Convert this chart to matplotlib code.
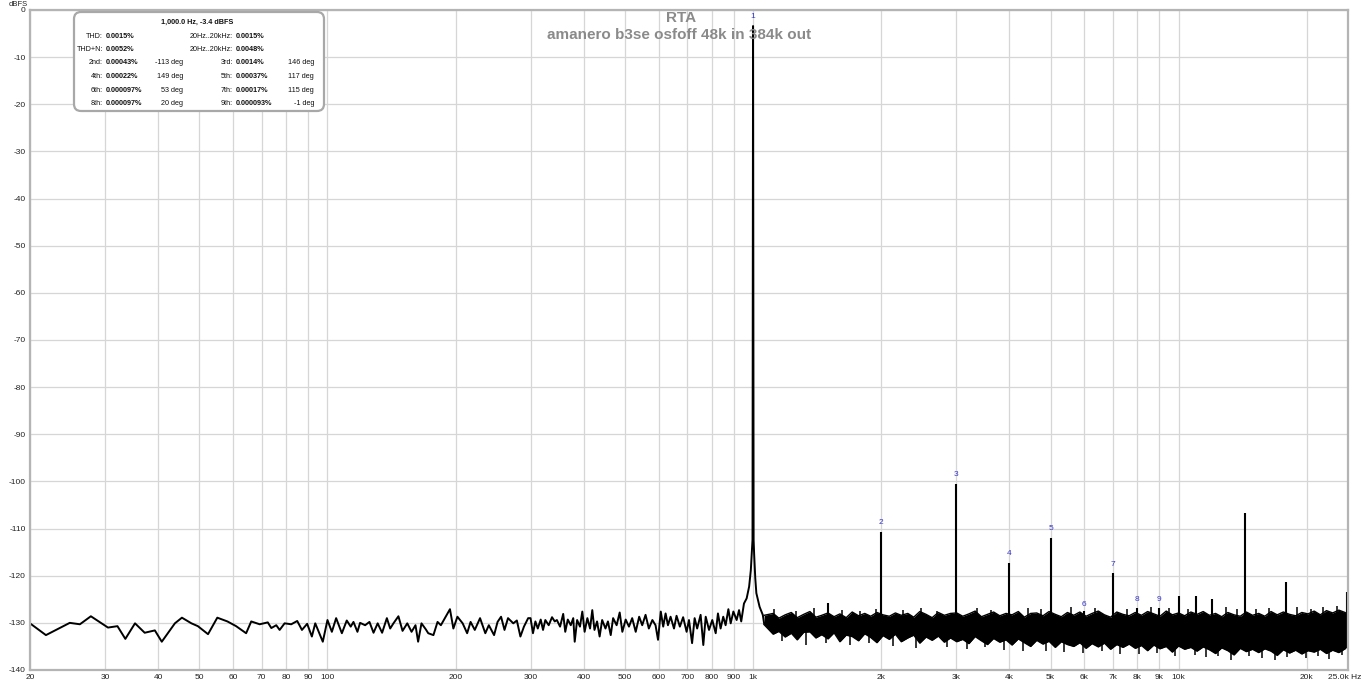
import matplotlib.pyplot as plt
import numpy as np
from matplotlib.patches import FancyBboxPatch
from matplotlib.ticker import NullLocator
from matplotlib.transforms import IdentityTransform, ScaledTranslation

plt.rcParams['font.family'] = ['Liberation Sans', 'DejaVu Sans']

# RTA trace below ~1 kHz (Hz, dBFS)
trace_f = [20, 21.8, 24.8, 26.2, 27.8, 30.5, 32.1, 33.5, 35.3, 37.2, 39.3, 40.8, 43.8, 45.5, 47.9,
           49.6, 52.4, 55.1, 58.2, 61, 64.4, 66.2, 69.3, 72.4, 73.8, 75.8, 77.2, 79.3, 82.2, 84.9,
           87.1, 89.6, 91.9, 93.6, 97.5,
           100, 102.4, 104.8, 108.1, 111, 113.4, 115.1, 117.6, 119.3, 122.6, 125.5, 128.3, 131.2,
           134.4, 137.9, 140.4, 142.9, 146.8, 150.1, 154, 157.6, 161, 163.3, 166.3, 170.3, 172.5,
           177.4, 181.4, 184.7, 189.3, 194, 197.6, 202, 207.8, 212.9, 216.9, 221.9, 228.3, 234.9,
           239.4, 246.3, 251, 255.8, 260.6, 265.6, 273.3, 278.6, 284, 289.5, 296.2,
           300, 304, 308, 312, 317, 321, 325, 331, 337, 342, 346, 352, 358, 362, 367, 373, 378, 381,
           386, 392, 397, 402, 408, 414, 419, 424, 430, 436, 442, 450, 456, 463, 469, 478, 486, 493,
           502, 511, 520, 530, 540, 549, 559, 569, 580, 590, 598, 607, 615, 623, 631, 640, 652, 661,
           673, 685, 698, 707, 719, 729, 739, 753, 764, 774, 788, 802, 817, 827, 839, 851, 862, 875,
           886, 899, 915, 927, 938, 952, 966, 979, 988, 994, 997, 1000, 1003, 1006, 1012, 1018, 1036,
           1054, 1062]
trace_db = [-130.1, -132.6, -130.0, -130.3, -128.6, -131.0, -130.7, -133.4, -130.1, -132.1, -131.6,
            -134.0, -130.1, -128.9, -130.1, -130.7, -132.4, -128.9, -129.7, -130.7, -132.2, -129.7,
            -130.3, -129.9, -131.1, -130.5, -131.5, -130.1, -130.3, -129.6, -131.5, -130.2, -132.9,
            -130.1, -134.0,
            -129.4, -131.9, -129.0, -132.2, -129.5, -130.8, -129.8, -131.9, -130.0, -130.5, -129.8,
            -132.1, -130.1, -132.1, -129.0, -131.2, -130.1, -128.6, -131.7, -130.1, -131.9, -130.5,
            -134.0, -130.1, -131.4, -132.2, -132.6, -129.8, -130.5, -128.8, -127.1, -131.2, -128.7,
            -130.1, -132.2, -129.8, -131.5, -129.0, -132.2, -130.5, -132.6, -129.8, -128.7, -131.5,
            -129.0, -130.1, -129.5, -132.9, -130.8, -129.0,
            -129.0, -132.2, -129.7, -131.2, -129.3, -131.5, -129.4, -130.5, -128.8, -129.7, -129.4,
            -130.8, -128.1, -131.9, -129.3, -130.5, -129.0, -134.0, -129.4, -130.8, -127.6, -131.9,
            -129.0, -131.2, -127.3, -131.5, -129.7, -132.9, -129.4, -131.2, -129.7, -132.6, -129.0,
            -130.5, -127.8, -131.9, -129.3, -130.8, -129.0, -131.9, -128.7, -130.5, -128.3, -131.2,
            -129.4, -130.5, -133.6, -127.6, -130.8, -128.0, -130.5, -128.7, -131.2, -128.5, -130.8,
            -128.8, -131.9, -129.4, -134.3, -129.0, -131.2, -128.3, -134.7, -128.7, -131.5, -129.4,
            -132.2, -128.0, -131.2, -128.7, -130.5, -127.1, -130.1, -127.6, -129.4, -127.3, -129.7,
            -125.9, -124.8, -122.3, -118.8, -114.5, -112.4, -3.4, -112.4, -115.5, -120.5, -123.7,
            -126.6, -128.3, -130.2]

# dense noise floor above 1 kHz: top and bottom edge of the band
band_f = [1062, 1115, 1150, 1190, 1230, 1270, 1315, 1360, 1405, 1450,
          1500, 1550, 1600, 1655, 1710, 1770, 1830, 1890, 1955, 2020,
          2090, 2160, 2230, 2310, 2385, 2465, 2550, 2635, 2725, 2815,
          2910, 3010, 3110, 3215, 3325, 3440, 3555, 3675, 3800, 3930,
          4060, 4200, 4340, 4490, 4640, 4800, 4960, 5130, 5300, 5480,
          5670, 5860, 6060, 6260, 6475, 6695, 6920, 7155, 7400, 7650,
          7910, 8180, 8455, 8745, 9040, 9350, 9665, 9995, 10330, 10685,
          11045, 11420, 11810, 12210, 12625, 13050, 13495, 13955, 14425, 14915,
          15420, 15945, 16485, 17045, 17620, 18220, 18835, 19475, 20135, 20820,
          21525, 22255, 23010, 23790, 24600, 25000]
band_hi = [-128.4, -128.0, -129.0, -128.3, -127.8, -128.9, -128.2, -127.6, -128.8, -128.4,
           -127.9, -128.7, -128.1, -128.9, -127.7, -128.5, -128.0, -128.6, -127.8, -128.3,
           -128.6, -127.9, -128.4, -128.0, -128.8, -127.6, -128.2, -128.9, -127.8, -128.4,
           -128.0, -127.9, -128.6, -128.1, -127.5, -128.7, -128.2, -127.7, -128.5, -128.0,
           -128.3, -127.6, -128.8, -128.0, -127.9, -128.5, -127.6, -128.2, -128.7, -127.8,
           -128.4, -127.7, -128.6, -128.0, -127.5, -128.3, -128.8, -127.7, -128.2, -128.5,
           -127.8, -128.4, -127.6, -128.1, -128.6, -127.5, -128.3, -127.9, -128.5, -127.7,
           -128.2, -127.6, -128.4, -128.0, -128.7, -127.8, -128.3, -128.6, -127.7, -128.4,
           -128.0, -128.6, -127.6, -128.3, -127.7, -128.2, -128.5, -127.8, -128.1, -127.5,
           -128.3, -127.4, -127.9, -127.3, -127.8, -128.2]
band_lo = [-130.4, -132.4, -131.8, -133.0, -132.2, -133.6, -132.0, -131.9, -133.2, -132.5,
           -133.4, -132.1, -134.0, -132.6, -132.9, -133.8, -132.3, -133.1, -134.2, -132.7,
           -133.5, -132.4, -134.0, -133.2, -132.6, -134.3, -133.0, -133.7, -132.8, -134.1,
           -133.2, -134.0, -133.5, -134.4, -132.9, -133.8, -134.6, -133.3, -134.1, -133.6,
           -134.7, -133.4, -134.2, -135.0, -133.7, -134.5, -133.9, -135.2, -134.0, -134.6,
           -135.0, -134.2, -135.4, -134.4, -135.1, -134.3, -135.6, -134.6, -135.2, -134.5,
           -135.4, -134.8, -135.9, -134.7, -135.5, -135.0, -136.2, -134.9, -135.6, -135.2,
           -136.0, -135.1, -135.7, -136.5, -135.3, -135.9, -136.8, -135.4, -136.1, -135.6,
           -136.3, -135.5, -136.0, -136.9, -135.7, -136.4, -135.8, -136.6, -135.9, -136.2,
           -135.6, -136.5, -135.8, -136.3, -135.5, -134.8]

# single noise bins poking out of the band
up_f = [1120, 1260, 1390, 1620, 1780, 1950, 2250, 2480, 2700, 3350, 3620, 4420, 4750, 5600,
        6350, 7580, 8600, 9500, 10500, 12900, 13700, 15200, 16300, 19000, 20500, 21800, 23500]
up_db = [-127.0, -127.4, -126.9, -127.2, -127.5, -127.0, -127.3, -126.8, -127.4, -126.9, -127.2,
         -126.8, -127.1, -126.7, -126.9, -127.0, -126.6, -126.9, -127.0, -126.7, -127.1, -127.0,
         -126.8, -126.6, -127.0, -126.7, -126.5]
dn_f = [1170, 1330, 1480, 1690, 1870, 2130, 2420, 2860, 3180, 3500, 3880, 4300, 4870, 5380,
        5950, 6600, 7300, 8050, 8900, 9800, 10900, 11600, 12400, 13300, 14600, 15700, 16800,
        18000, 19900, 21200, 22600, 24200]
dn_db = [-133.8, -134.6, -134.2, -134.8, -134.3, -135.0, -135.3, -135.1, -135.6, -135.2, -135.8,
         -136.0, -135.9, -136.2, -136.4, -136.0, -136.5, -136.6, -136.3, -137.0, -136.8, -137.3,
         -137.0, -137.8, -137.1, -137.5, -137.9, -137.2, -137.4, -137.0, -137.6, -136.9]

# tones standing out of the noise floor
spike_f = [1500, 2000, 3000, 4000, 5000, 6000, 7000, 8000, 9000, 10000, 11000, 12000,
           14300, 17900, 24800]
spike_db = [-125.7, -110.7, -100.5, -117.3, -111.9, -127.5, -119.5, -126.8, -126.8, -124.4,
            -124.3, -125.0, -106.6, -121.3, -123.5]

# harmonic markers
harm_f = [1000, 2000, 3000, 4000, 5000, 6000, 7000, 8000, 9000]
harm_db = [-3.4, -110.7, -100.5, -117.3, -111.9, -128.0, -119.5, -126.9, -126.9]

xticks = [20, 30, 40, 50, 60, 70, 80, 90, 100, 200, 300, 400, 500, 600, 700, 800, 900,
          1000, 2000, 3000, 4000, 5000, 6000, 7000, 8000, 9000, 10000, 20000, 25000]
xticklabels = ['20', '30', '40', '50', '60', '70', '80', '90', '100', '200', '300', '400',
               '500', '600', '700', '800', '900', '1k', '2k', '3k', '4k', '5k', '6k', '7k',
               '8k', '9k', '10k', '20k', '25.0k Hz']
yticks = list(range(-140, 1, 10))

# distortion summary box
box_title = '1,000.0 Hz, -3.4 dBFS'
thd_names = ['THD:', 'THD+N:']
thd_vals = ['0.0015%', '0.0052%']
band_names = ['20Hz..20kHz:', '20Hz..20kHz:']
band_vals = ['0.0015%', '0.0048%']
h_names = ['2nd:', '3rd:', '4th:', '5th:', '6th:', '7th:', '8th:', '9th:']
h_pct = ['0.00043%', '0.0014%', '0.00022%', '0.00037%', '0.000097%', '0.00017%',
         '0.000097%', '0.000093%']
h_deg = ['-113 deg', '146 deg', '149 deg', '117 deg', '53 deg', '115 deg', '20 deg', '-1 deg']

W, H = 1362, 685
fig = plt.figure(figsize=(W / 100, H / 100), dpi=100)
ax = fig.add_axes([30 / W, 15 / H, 1318 / W, 660 / H])

ax.plot(trace_f, trace_db, color='black', lw=1.4)
ax.fill_between(band_f, band_lo, band_hi, color='black', lw=0)
ax.plot(band_f, band_hi, color='black', lw=1.0)
ax.plot(band_f, band_lo, color='black', lw=1.0)
ax.vlines(up_f, -130, up_db, color='black', lw=1.1)
ax.vlines(dn_f, -131, dn_db, color='black', lw=1.1)
ax.vlines(spike_f, -130, spike_db, color='black', lw=1.5)

for i, (f, d) in enumerate(zip(harm_f, harm_db)):
    ax.text(f, d + 1.2, str(i + 1), color='#3535c8', fontsize=6, ha='center', va='bottom')

ax.set_xscale('log')
ax.set_xlim(20, 25000)
ax.set_ylim(-140, 0)
ax.set_xticks(xticks)
ax.set_xticklabels(xticklabels)
ax.xaxis.set_minor_locator(NullLocator())
ax.set_yticks(yticks)
ax.set_yticklabels([str(v) for v in yticks])
ax.tick_params(length=0, labelsize=6, colors='#222222', pad=3)
ax.grid(True, color='#d6d6d6', lw=0.9)
ax.set_axisbelow(True)
for s in ax.spines.values():
    s.set_color('#b4b4b4')
    s.set_linewidth(1.6)

# last x label sits a little left of the edge
last = ax.get_xticklabels()[-1]
last.set_transform(last.get_transform() + ScaledTranslation(-3 / 100, 0, fig.dpi_scale_trans))

fig.text(18 / W, 1 - 4 / H, 'dBFS', fontsize=5.5, ha='center', va='center', color='#222222')
fig.text(681 / W, 1 - 18 / H, 'RTA', fontsize=11, fontweight='bold', color='#8a8a8a',
         ha='center', va='center')
fig.text(679 / W, 1 - 35 / H, 'amanero b3se osfoff 48k in 384k out', fontsize=11,
         fontweight='bold', color='#8a8a8a', ha='center', va='center')

# summary box in pixel coordinates (origin bottom-left)
px = IdentityTransform()
box = FancyBboxPatch((74, H - 111), 250, 99, boxstyle='round,pad=0,rounding_size=7',
                     transform=px, facecolor='white', edgecolor='#a8a8a8', lw=1.6, zorder=5)
fig.patches.append(box)

fs = 5.2
def txt(x, y, s, ha='left', bold=False):
    fig.text(x, H - y, s, transform=px, fontsize=fs, ha=ha, va='center',
             fontweight='bold' if bold else 'normal', color='#111111', zorder=6)

txt(197, 22, box_title, ha='center', bold=True)
for i in range(2):
    y = 36 + 13.6 * i
    txt(103, y, thd_names[i], ha='right')
    txt(106, y, thd_vals[i], bold=True)
    txt(233, y, band_names[i], ha='right')
    txt(236, y, band_vals[i], bold=True)
for i in range(4):
    y = 63 + 13.6 * i
    txt(103, y, h_names[2 * i], ha='right')
    txt(106, y, h_pct[2 * i], bold=True)
    txt(183, y, h_deg[2 * i], ha='right')
    txt(233, y, h_names[2 * i + 1], ha='right')
    txt(236, y, h_pct[2 * i + 1], bold=True)
    txt(314, y, h_deg[2 * i + 1], ha='right')

fig.savefig('out.png', dpi=100)
